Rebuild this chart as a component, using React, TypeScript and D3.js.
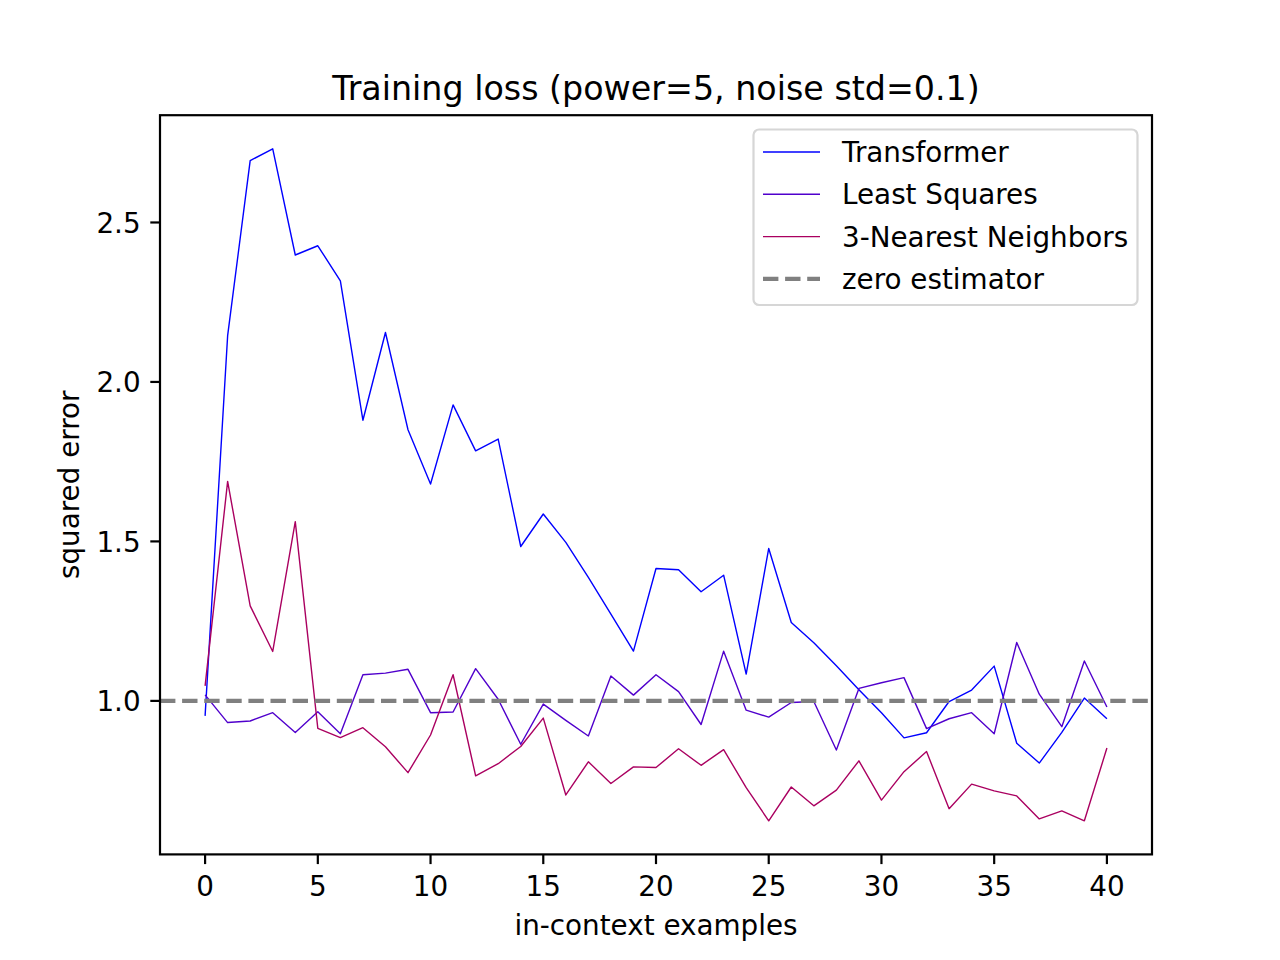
import { line, scaleLinear } from "d3";

const steps = Array.from({ length: 41 }, (_, i) => i);

const transformerLoss = [
  0.953, 2.145, 2.694, 2.731, 2.398, 2.427, 2.317, 1.88, 2.155, 1.85, 1.68,
  1.928, 1.784, 1.821, 1.484, 1.586, 1.497, 1.387, 1.272, 1.156, 1.415, 1.411,
  1.342, 1.394, 1.084, 1.478, 1.246, 1.182, 1.11, 1.035, 0.963, 0.884, 0.9,
  0.998, 1.034, 1.109, 0.867, 0.805, 0.901, 1.009, 0.944,
];
const leastSquaresLoss = [
  1.019, 0.932, 0.937, 0.963, 0.901, 0.966, 0.897, 1.082, 1.087, 1.099, 0.963,
  0.965, 1.101, 1.005, 0.864, 0.99, 0.939, 0.89, 1.078, 1.018, 1.082, 1.029,
  0.926, 1.156, 0.971, 0.949, 0.995, 0.998, 0.846, 1.039, 1.057, 1.073, 0.913,
  0.944, 0.963, 0.897, 1.183, 1.021, 0.919, 1.125, 0.981,
];
const knnLoss = [
  1.047, 1.688, 1.298, 1.155, 1.562, 0.914, 0.885, 0.916, 0.856, 0.775, 0.893,
  1.082, 0.765, 0.803, 0.857, 0.946, 0.705, 0.809, 0.741, 0.793, 0.791, 0.85,
  0.798, 0.847, 0.728, 0.624, 0.73, 0.671, 0.72, 0.812, 0.689, 0.778, 0.841,
  0.662, 0.739, 0.718, 0.702, 0.63, 0.655, 0.624, 0.852,
];
const zeroEstimator = 1.0;

const xTicks = [0, 5, 10, 15, 20, 25, 30, 35, 40];
const yTicks = [1.0, 1.5, 2.0, 2.5];

const seriesNames = ["Transformer", "Least Squares", "3-Nearest Neighbors"];
const seriesColors = ["#0000ff", "#5000cc", "#aa0060"];

const W = 1280;
const H = 960;
const left = 160;
const right = 1152;
const top = 115.2;
const bottom = 854.4;
const font = "DejaVu Sans, sans-serif";
const fs = 27.8;

export default function App() {
  const all = [...transformerLoss, ...leastSquaresLoss, ...knnLoss];
  const yMin = Math.min(...all);
  const yMax = Math.max(...all);
  const yPad = (yMax - yMin) * 0.05;
  const xPad = (steps[steps.length - 1] - steps[0]) * 0.05;

  const x = scaleLinear()
    .domain([steps[0] - xPad, steps[steps.length - 1] + xPad])
    .range([left, right]);
  const y = scaleLinear()
    .domain([yMin - yPad, yMax + yPad])
    .range([bottom, top]);

  const path = line<number>()
    .x((_, i) => x(steps[i]))
    .y((d) => y(d));

  const series = [transformerLoss, leastSquaresLoss, knnLoss];

  // legend layout
  const lgX = 753.5;
  const lgY = 129.5;
  const lgW = 384;
  const lgH = 175.5;
  const rowY = (i: number) => 152 + i * 42.3;
  const legendItems = [...seriesNames, "zero estimator"];

  return (
    <svg
      width={W}
      height={H}
      style={{ position: "absolute", left: 0, top: 0, background: "#fff" }}
      fontFamily={font}
    >
      <rect x={0} y={0} width={W} height={H} fill="#fff" />

      {/* series */}
      {series.map((d, i) => (
        <path
          key={seriesNames[i]}
          d={path(d) ?? ""}
          fill="none"
          stroke={seriesColors[i]}
          strokeWidth={1.4}
          strokeLinejoin="round"
        />
      ))}
      <line
        x1={left}
        x2={right}
        y1={y(zeroEstimator)}
        y2={y(zeroEstimator)}
        stroke="#808080"
        strokeWidth={4.2}
        strokeDasharray="15.4 6.7"
      />

      {/* frame */}
      <rect
        x={left}
        y={top}
        width={right - left}
        height={bottom - top}
        fill="none"
        stroke="#000"
        strokeWidth={2.2}
      />

      {/* x axis */}
      {xTicks.map((t) => (
        <g key={`x-${t}`}>
          <line
            x1={x(t)}
            x2={x(t)}
            y1={bottom}
            y2={bottom + 9.7}
            stroke="#000"
            strokeWidth={2.2}
          />
          <text x={x(t)} y={bottom + 42} textAnchor="middle" fontSize={fs}>
            {t}
          </text>
        </g>
      ))}

      {/* y axis */}
      {yTicks.map((t) => (
        <g key={`y-${t}`}>
          <line
            x1={left - 9.7}
            x2={left}
            y1={y(t)}
            y2={y(t)}
            stroke="#000"
            strokeWidth={2.2}
          />
          <text
            x={left - 19.4}
            y={y(t) + 10.1}
            textAnchor="end"
            fontSize={fs}
          >
            {t.toFixed(1)}
          </text>
        </g>
      ))}

      {/* labels */}
      <text
        x={(left + right) / 2}
        y={100}
        textAnchor="middle"
        fontSize={33.3}
      >
        Training loss (power=5, noise std=0.1)
      </text>
      <text x={(left + right) / 2} y={935} textAnchor="middle" fontSize={fs}>
        in-context examples
      </text>
      <text
        transform={`translate(79, ${(top + bottom) / 2}) rotate(-90)`}
        textAnchor="middle"
        fontSize={fs}
      >
        squared error
      </text>

      {/* legend */}
      <rect
        x={lgX}
        y={lgY}
        width={lgW}
        height={lgH}
        rx={5.6}
        fill="#fff"
        fillOpacity={0.8}
        stroke="#d6d6d6"
        strokeWidth={2.2}
      />
      {legendItems.map((name, i) => (
        <g key={`lg-${name}`}>
          <line
            x1={763}
            x2={820}
            y1={rowY(i)}
            y2={rowY(i)}
            stroke={i < 3 ? seriesColors[i] : "#808080"}
            strokeWidth={i < 3 ? 1.4 : 4.2}
            strokeDasharray={i < 3 ? undefined : "15.4 6.7"}
          />
          <text x={842} y={rowY(i) + 10} fontSize={fs} fill="#000">
            {name}
          </text>
        </g>
      ))}
    </svg>
  );
}
